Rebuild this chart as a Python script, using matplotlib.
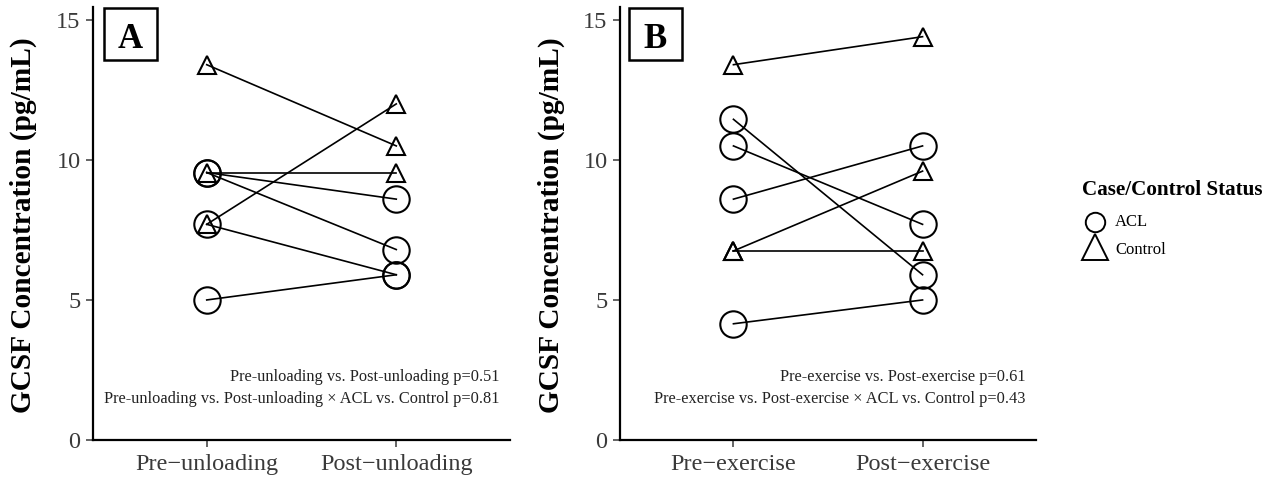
import matplotlib
matplotlib.use("Agg")
import matplotlib.pyplot as plt
from matplotlib.lines import Line2D
from matplotlib.patches import Rectangle

plt.rcParams['font.family'] = ['Liberation Serif', 'DejaVu Serif']

# Panel A data (pre, post)
a_groups = ["Pre\u2212unloading", "Post\u2212unloading"]
a_acl_pre = [9.55, 9.55, 7.7, 5.0]
a_acl_post = [8.6, 6.8, 5.9, 5.9]
a_ctl_pre = [13.4, 7.7, 9.55]
a_ctl_post = [10.5, 12.0, 9.55]
a_notes = ["Pre-unloading vs. Post-unloading p=0.51",
           "Pre-unloading vs. Post-unloading \u00d7 ACL vs. Control p=0.81"]

# Panel B data
b_groups = ["Pre\u2212exercise", "Post\u2212exercise"]
b_acl_pre = [11.45, 10.5, 8.6, 4.15]
b_acl_post = [5.9, 7.7, 10.5, 5.0]
b_ctl_pre = [13.4, 6.75, 6.75]
b_ctl_post = [14.4, 9.6, 6.75]
b_notes = ["Pre-exercise vs. Post-exercise p=0.61",
           "Pre-exercise vs. Post-exercise \u00d7 ACL vs. Control p=0.43"]

y_ticks = [0, 5, 10, 15]
ylabel = "GCSF Concentration (pg/mL)"
legend_title = "Case/Control Status"
legend_labels = ["ACL", "Control"]

W, H = 1276, 480
fig = plt.figure(figsize=(W / 100, H / 100), dpi=100)

def fx(x):
    return x / W

def fy(y):
    return 1 - y / H

def px_axes(x0, x1, y0, y1):
    return fig.add_axes([x0 / W, 1 - y1 / H, (x1 - x0) / W, (y1 - y0) / H])

TICK_COL = '#3a3a3a'

def draw(ax, groups, acl_pre, acl_post, ctl_pre, ctl_post, notes, letter, ylab_x, box_x0):
    xs = [1, 2]
    for p, q in zip(acl_pre, acl_post):
        ax.plot(xs, [p, q], color='black', lw=1.2, zorder=2)
    for p, q in zip(ctl_pre, ctl_post):
        ax.plot(xs, [p, q], color='black', lw=1.2, zorder=2)
    for p, q in zip(acl_pre, acl_post):
        ax.plot(xs, [p, q], ls='none', marker='o', ms=19, mfc='none',
                mec='black', mew=1.5, zorder=3)
    for p, q in zip(ctl_pre, ctl_post):
        ax.plot(xs, [p, q], ls='none', marker='^', ms=13, mfc='none',
                mec='black', mew=1.5, zorder=3)
    ax.set_xlim(0.4, 2.6)
    ax.set_ylim(0, 15.46)
    ax.set_xticks(xs)
    ax.set_xticklabels(groups, fontsize=17.5)
    ax.set_yticks(y_ticks)
    ax.set_yticklabels([str(t) for t in y_ticks], fontsize=17.5)
    ax.tick_params(colors=TICK_COL, labelcolor=TICK_COL, length=5, width=1.1, direction='out')
    ax.tick_params(axis='x', pad=5)
    ax.tick_params(axis='y', pad=4)
    for s in ['top', 'right']:
        ax.spines[s].set_visible(False)
    for s in ['left', 'bottom']:
        ax.spines[s].set_linewidth(1.6)
        ax.spines[s].set_color('black')
    fig.text(fx(ylab_x), fy(225), ylabel, rotation=90, ha='center', va='center',
             fontsize=21.2, fontweight='bold')
    ax.text(0.975, 0.145, notes[0], transform=ax.transAxes, ha='right', va='center',
            fontsize=11.8, color='#222222')
    ax.text(0.975, 0.095, notes[1], transform=ax.transAxes, ha='right', va='center',
            fontsize=11.8, color='#222222')
    fig.add_artist(Rectangle((fx(box_x0), fy(60)), 53 / W, 52 / H, transform=fig.transFigure,
                             fc='white', ec='black', lw=1.8, zorder=5))
    fig.text(fx(box_x0 + 26.5), fy(36), letter, ha='center', va='center_baseline',
             fontsize=25, fontweight='bold', zorder=6)

axA = px_axes(93, 510, 7, 440)
draw(axA, a_groups, a_acl_pre, a_acl_post, a_ctl_pre, a_ctl_post, a_notes, "A", 23, 104)
axB = px_axes(620, 1036, 7, 440)
draw(axB, b_groups, b_acl_pre, b_acl_post, b_ctl_pre, b_ctl_post, b_notes, "B", 551, 629)

# Legend (drawn manually in figure coordinates)
fig.text(fx(1082), fy(190), legend_title, ha='left', va='center', fontsize=15.2,
         fontweight='bold')
fig.add_artist(Line2D([fx(1095)], [fy(222)], ls='none', marker='o', ms=14, mfc='none',
                      mec='black', mew=1.4, transform=fig.transFigure))
fig.add_artist(Line2D([fx(1095)], [fy(247)], ls='none', marker='^', ms=19, mfc='none',
                      mec='black', mew=1.4, transform=fig.transFigure))
fig.text(fx(1115), fy(222), legend_labels[0], ha='left', va='center', fontsize=12)
fig.text(fx(1115), fy(250), legend_labels[1], ha='left', va='center', fontsize=12)

fig.savefig("out.png", dpi=100)
